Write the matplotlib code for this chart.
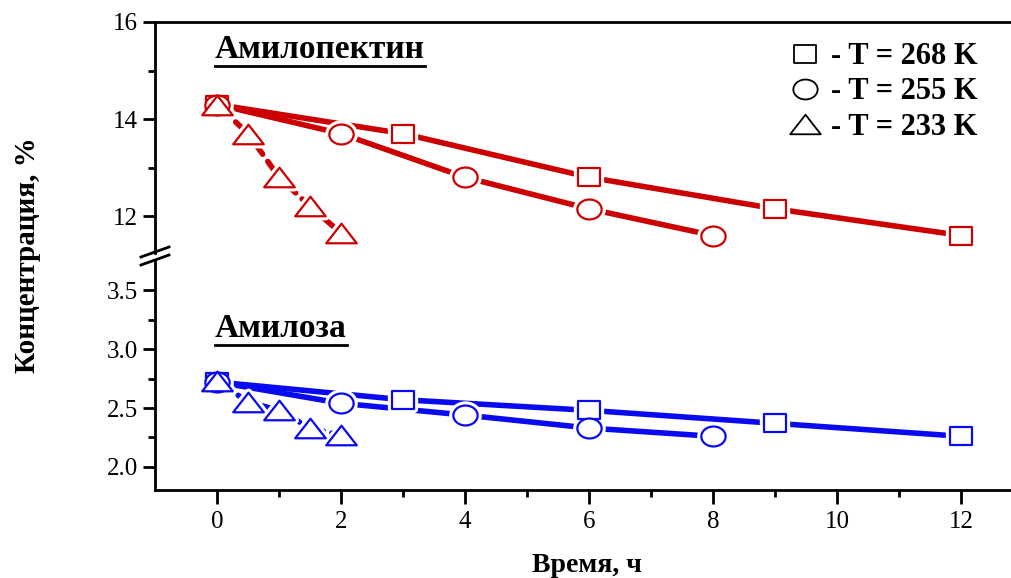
import numpy as np
import matplotlib
matplotlib.use("Agg")
import matplotlib.pyplot as plt
from matplotlib.path import Path
from matplotlib.lines import Line2D
from matplotlib.transforms import Affine2D

# Data (time in hours, concentration in %)
time_268 = [0, 3, 6, 9, 12]
time_255 = [0, 2, 4, 6, 8]
time_233 = [0, 0.5, 1, 1.5, 2]

amylopectin_268 = [14.3, 13.7, 12.8, 12.15, 11.6]
amylopectin_255 = [14.3, 13.7, 12.8, 12.15, 11.6]
amylopectin_233 = [14.3, 13.7, 12.8, 12.2, 11.65]

amylose_268 = [2.72, 2.57, 2.48, 2.37, 2.26]
amylose_255 = [2.72, 2.54, 2.44, 2.33, 2.26]
amylose_233 = [2.73, 2.55, 2.48, 2.33, 2.27]

legend_labels = ['- T = 268 K', '- T = 255 K', '- T = 233 K']

plt.rcParams['font.family'] = ['Liberation Serif', 'DejaVu Serif']

red = '#CC0000'
blue = '#0A0AF0'

# Wide-ish marker shapes like in the picture
square = Path([(-1, -0.88), (1, -0.88), (1, 0.88), (-1, 0.88), (-1, -0.88)], closed=True)
ellipse = Path.unit_circle().transformed(Affine2D().scale(1, 0.82))
triangle = Path([(-1, -0.64), (1, -0.64), (0, 0.64), (-1, -0.64)], closed=True)

markers = [(square, 15.5), (ellipse, 17.5), (triangle, 22)]

fig = plt.figure(figsize=(10.11, 5.78), dpi=100)
W, H = 1011, 578
left, right = 155 / W, 1.0
ax_top = fig.add_axes([left, 1 - 253 / H, right - left, (253 - 22) / H])
ax_bot = fig.add_axes([left, 1 - 490 / H, right - left, (490 - 261) / H])


def draw_series(ax, x, y, marker, ms, color, ls):
    ax.plot(x, y, color=color, lw=4, ls=ls, solid_capstyle='round',
            dash_capstyle='round', zorder=2)
    # white halo so the line stops short of each marker
    ax.plot(x, y, ls='none', marker=marker, ms=ms, mfc='white', mec='white',
            mew=6, zorder=3)
    ax.plot(x, y, ls='none', marker=marker, ms=ms, mfc='white', mec=color,
            mew=1.6, zorder=4)


dash = (0, (3, 1.6))
series_top = [(time_268, amylopectin_268, '-'), (time_255, amylopectin_255, '-'),
              (time_233, amylopectin_233, dash)]
series_bot = [(time_268, amylose_268, '-'), (time_255, amylose_255, '-'),
              (time_233, amylose_233, dash)]

for (x, y, ls), (m, ms) in zip(series_top, markers):
    draw_series(ax_top, x, y, m, ms, red, ls)
for (x, y, ls), (m, ms) in zip(series_bot, markers):
    draw_series(ax_bot, x, y, m, ms, blue, ls)

# Axes limits and ticks
for ax in (ax_top, ax_bot):
    ax.set_xlim(-1, 12.8)
    ax.spines['right'].set_visible(False)
    for s in ax.spines.values():
        s.set_linewidth(2)
    ax.tick_params(which='major', direction='out', width=2, length=9,
                   labelsize=18)
    ax.tick_params(which='minor', direction='out', width=2, length=5)

ax_top.set_ylim(11.24, 16)
ax_top.set_yticks([12, 14, 16])
ax_top.set_yticks([13, 15], minor=True)
ax_top.spines['bottom'].set_visible(False)
ax_top.set_xticks([])
ax_top.set_xticks([], minor=True)

ax_bot.set_ylim(1.805, 3.746)
ax_bot.set_yticks([2.0, 2.5, 3.0, 3.5])
ax_bot.set_yticklabels(['2.0', '2.5', '3.0', '3.5'])
ax_bot.set_yticks([2.25, 2.75, 3.25], minor=True)
ax_bot.spines['top'].set_visible(False)
ax_bot.set_xticks(np.arange(0, 13, 2))
ax_bot.set_xticks(np.arange(1, 13, 2), minor=True)
ax_bot.tick_params(axis='x', which='major', length=10, pad=5)

# Axis labels
fig.text(28 / W, 1 - 255 / H, 'Концентрация, %', rotation=90, ha='center',
         va='center', fontsize=21, fontweight='bold')
fig.text(587 / W, 1 - 566 / H, 'Время, ч', ha='center', va='center',
         fontsize=20, fontweight='bold')

# Panel titles (underlined)
t1 = ax_top.text(0.07, 0.845, 'Амилопектин', transform=ax_top.transAxes,
                 fontsize=24, fontweight='bold', va='baseline')
t2 = ax_bot.text(0.07, 0.668, 'Амилоза', transform=ax_bot.transAxes,
                 fontsize=24, fontweight='bold', va='baseline')

# Legend with black hollow symbols
handles = [Line2D([], [], ls='none', marker=m, ms=ms, mfc='none', mec='black',
                  mew=1.3) for m, ms in markers]
ax_top.legend(handles, legend_labels, loc='upper right',
              bbox_to_anchor=(0.975, 0.965), frameon=False, handletextpad=0.35,
              handlelength=1.0, labelspacing=0.2, borderaxespad=0,
              prop={'size': 22, 'weight': 'bold'})

# Break marks on the y axis
for yb in (252, 260):
    fig.add_artist(Line2D([141 / W, 169 / W], [1 - (yb + 5) / H, 1 - (yb - 5) / H],
                          color='black', lw=2))

# Underline the panel titles
fig.canvas.draw()
for t in (t1, t2):
    bb = t.get_window_extent().transformed(fig.transFigure.inverted())
    fig.add_artist(Line2D([bb.x0, bb.x1], [bb.y0 - 1 / H, bb.y0 - 1 / H],
                          color='black', lw=2))

fig.savefig('out.png', dpi=100)
